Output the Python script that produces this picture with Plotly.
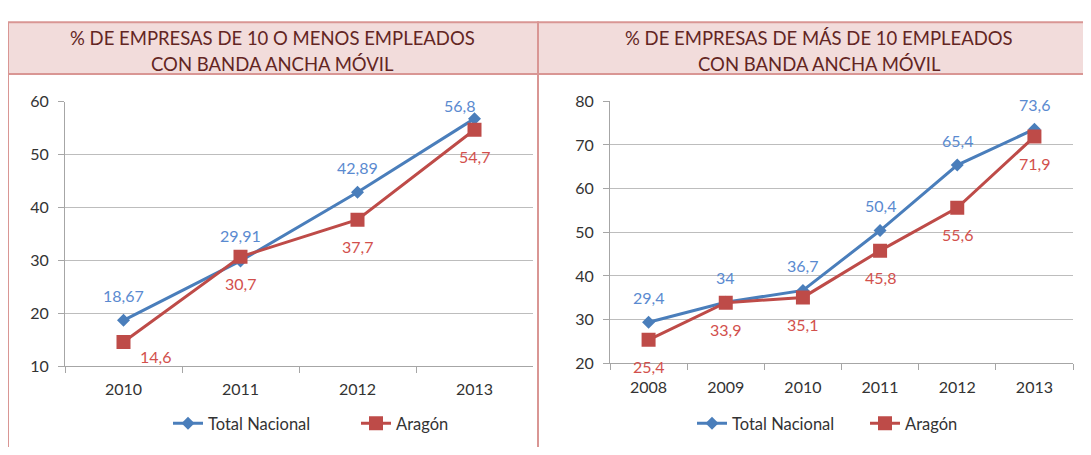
import plotly.graph_objects as go

# The page body has an 8px default margin: the figure is shrunk so it fits the
# 1091x455 window, and target screen pixels are converted with that offset.
SCR_W, SCR_H = 1091, 455
OFF = 8
W, H = SCR_W - 2 * OFF, SCR_H - 2 * OFF

# ---------------- data ----------------
years_small = ["2010", "2011", "2012", "2013"]
nacional_small = [18.67, 29.91, 42.89, 56.8]
aragon_small = [14.6, 30.7, 37.7, 54.7]

years_large = ["2008", "2009", "2010", "2011", "2012", "2013"]
nacional_large = [29.4, 34, 36.7, 50.4, 65.4, 73.6]
aragon_large = [25.4, 33.9, 35.1, 45.8, 55.6, 71.9]

title_small = ["% DE EMPRESAS DE 10 O MENOS EMPLEADOS", "CON BANDA ANCHA MÓVIL"]
title_large = ["% DE EMPRESAS DE MÁS DE 10 EMPLEADOS", "CON BANDA ANCHA MÓVIL"]
series_names = ["Total Nacional", "Aragón"]

# ---------------- styles ----------------
FONT = "Lato, 'Open Sans', sans-serif"
BLUE = "#4A7EBB"
RED = "#BE4B48"
BLUE_LBL = "#5A8AD0"
RED_LBL = "#D2504C"
GRID = "#BDBDBD"
AXIS = "#A6A6A6"
TXT = "#333333"
HDR_FILL = "#F2DCDB"
HDR_LINE = "#D99694"
HDR_TXT = "#632523"

# label shifts (px) per point: (dx, dy) - dy positive = up
shift_nac_small = [(0, 25), (0, 25), (0, 25), (-15, 13)]
shift_ara_small = [(32, -15), (0, -27), (0, -27), (0, -27)]
shift_nac_large = [(0, 25)] * 6
shift_ara_large = [(0, -27)] * 6


def px(x):
    return (x - OFF) / W


def py(y):
    return 1 - (y - OFF) / H


def fmt(v):
    return f"{v:g}".replace(".", ",")


fig = go.Figure()

panels = [
    dict(xa="x", ya="y", leg="legend", years=years_small,
         nac=nacional_small, ara=aragon_small,
         snac=shift_nac_small, sara=shift_ara_small),
    dict(xa="x2", ya="y2", leg="legend2", years=years_large,
         nac=nacional_large, ara=aragon_large,
         snac=shift_nac_large, sara=shift_ara_large),
]

annotations = []
for p in panels:
    fig.add_trace(go.Scatter(
        x=p["years"], y=p["nac"], name=series_names[0], mode="lines+markers",
        line=dict(color=BLUE, width=3),
        marker=dict(symbol="diamond", size=10, color=BLUE),
        xaxis=p["xa"], yaxis=p["ya"], legend=p["leg"], hoverinfo="skip"))
    fig.add_trace(go.Scatter(
        x=p["years"], y=p["ara"], name=series_names[1], mode="lines+markers",
        line=dict(color=RED, width=3),
        marker=dict(symbol="square", size=14, color=RED),
        xaxis=p["xa"], yaxis=p["ya"], legend=p["leg"], hoverinfo="skip"))
    for vals, shifts, col in [(p["nac"], p["snac"], BLUE_LBL),
                              (p["ara"], p["sara"], RED_LBL)]:
        for i, (v, (dx, dy)) in enumerate(zip(vals, shifts)):
            annotations.append(dict(
                x=i, y=v, xref=p["xa"], yref=p["ya"], text=fmt(v),
                showarrow=False, xshift=dx, yshift=dy,
                font=dict(family=FONT, size=16, color=col)))

# header texts
for cx, lines in [(272.5, title_small), (819, title_large)]:
    for yy, t in zip([28.5, 56.5], lines):
        annotations.append(dict(
            x=px(cx), y=py(yy), xref="paper", yref="paper", text=t,
            showarrow=False, xanchor="center", yanchor="middle",
            font=dict(family=FONT, size=18.5, color=HDR_TXT)))

shapes = [
    dict(type="rect", xref="paper", yref="paper", x0=px(8), x1=px(538),
         y0=py(66.5), y1=py(12.5), fillcolor=HDR_FILL,
         line=dict(color=HDR_LINE, width=2), layer="below"),
    dict(type="rect", xref="paper", yref="paper", x0=px(538), x1=px(1100),
         y0=py(66.5), y1=py(12.5), fillcolor=HDR_FILL,
         line=dict(color=HDR_LINE, width=2), layer="below"),
    dict(type="line", xref="paper", yref="paper", x0=px(8), x1=px(8),
         y0=py(12.5), y1=py(460), line=dict(color=HDR_LINE, width=2)),
    dict(type="line", xref="paper", yref="paper", x0=px(538), x1=px(538),
         y0=py(12.5), y1=py(460), line=dict(color=HDR_LINE, width=2)),
]

xcommon = dict(type="category", showline=True, linecolor=AXIS, linewidth=1,
               ticks="outside", tickson="boundaries", ticklen=6, tickcolor=AXIS,
               showgrid=False, zeroline=False, ticklabelstandoff=9,
               tickfont=dict(family=FONT, size=16, color=TXT), fixedrange=True)
ycommon = dict(showline=True, linecolor=AXIS, linewidth=1, ticks="outside",
               ticklen=6, tickcolor=AXIS, showgrid=True, gridcolor=GRID,
               gridwidth=1, zeroline=False, dtick=10,
               tickfont=dict(family=FONT, size=16, color=TXT), fixedrange=True,
               ticklabelstandoff=6)

legcommon = dict(orientation="h", bgcolor="rgba(0,0,0,0)",
                 font=dict(family=FONT, size=16.5, color=TXT),
                 yanchor="middle", xanchor="left", traceorder="normal",
                 itemwidth=30)

fig.update_layout(
    width=W, height=H, margin=dict(l=0, r=0, t=0, b=0),
    paper_bgcolor="white", plot_bgcolor="white",
    xaxis=dict(domain=[px(65), px(533)], anchor="y", range=[-0.5, 3.5], **xcommon),
    yaxis=dict(domain=[py(372), py(95.5)], anchor="x", range=[10, 60], **ycommon),
    xaxis2=dict(domain=[px(610), px(1073)], anchor="y2", range=[-0.5, 5.5], **xcommon),
    yaxis2=dict(domain=[py(369), py(95)], anchor="x2", range=[20, 80], **ycommon),
    legend=dict(x=px(168), y=py(432), entrywidth=143, **legcommon),
    legend2=dict(x=px(692), y=py(432), entrywidth=128, **legcommon),
    annotations=annotations,
    shapes=shapes,
    showlegend=True,
)

fig.write_html("out.html")
